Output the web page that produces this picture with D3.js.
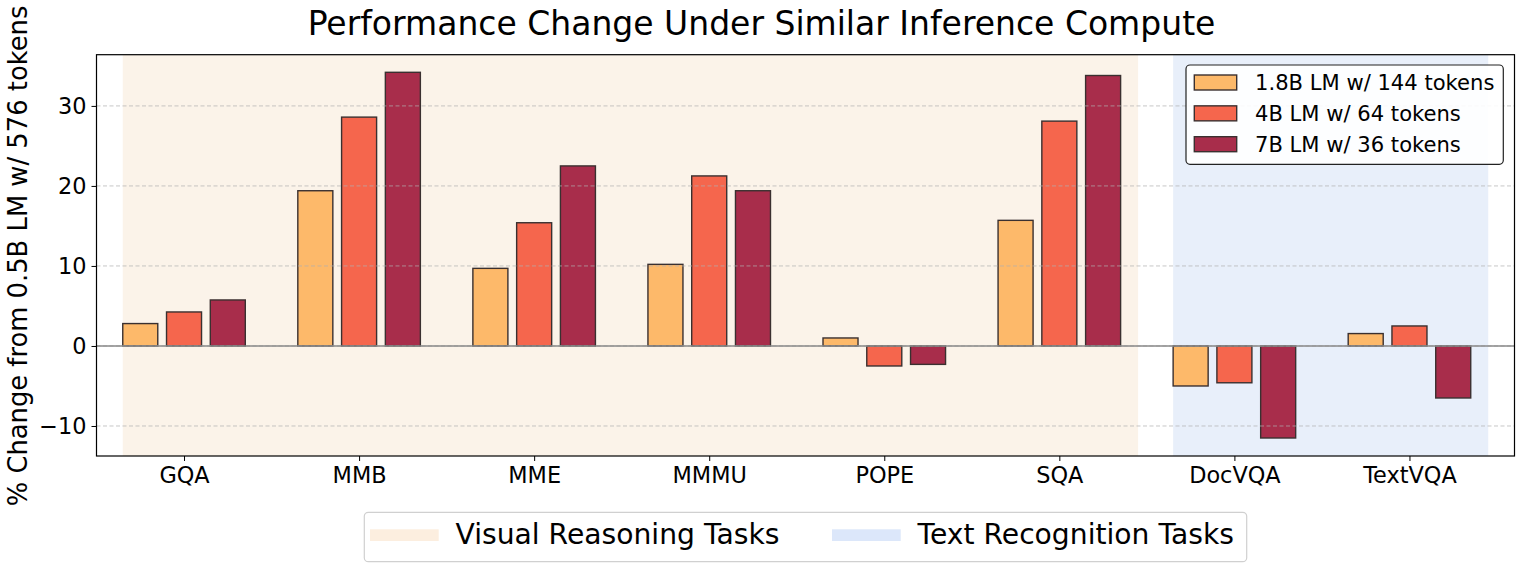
<!DOCTYPE html>
<html><head><meta charset="utf-8">
<script src="https://cdn.jsdelivr.net/npm/d3@7"></script>
<style>html,body{margin:0;padding:0;background:#fff;}svg{display:block;font-family:"DejaVu Sans",sans-serif;}</style>
</head><body>
<svg id="chart" width="1523" height="571"></svg>
<script>
const categories = ["GQA","MMB","MME","MMMU","POPE","SQA","DocVQA","TextVQA"];
const seriesNames = ["1.8B LM w/ 144 tokens","4B LM w/ 64 tokens","7B LM w/ 36 tokens"];
const vals18B = [2.8, 19.4, 9.7, 10.2, 1.0, 15.7, -5.0, 1.55];
const vals4B  = [4.25, 28.6, 15.4, 21.25, -2.5, 28.1, -4.6, 2.5];
const vals7B  = [5.75, 34.2, 22.5, 19.4, -2.3, 33.8, -11.5, -6.5];
const yTicks = [-10, 0, 10, 20, 30];
const regionNames = ["Visual Reasoning Tasks","Text Recognition Tasks"];
const regionSpans = [[-0.35, 5.45],[5.65, 7.45]];

const seriesVals = [vals18B, vals4B, vals7B];
const colors = ["#FDB96A","#F5664D","#A82D4B"];
const regionFill = ["#FBF3E9","#E8EFFA"];
const regionLegendFill = ["#FCEEDF","#DCE7FA"];

const svg = d3.select("#chart");
const L = 96.5, R = 1514.5, T = 54.7, B = 456;
const x = d3.scaleLinear().domain([-0.5, 7.6]).range([L, R]);
const y = d3.scaleLinear().domain([-13.75, 36.4]).range([B, T]);

// region spans
svg.append("g").selectAll("rect").data(regionSpans).join("rect")
  .attr("x", d => x(d[0])).attr("width", d => x(d[1]) - x(d[0]))
  .attr("y", T).attr("height", B - T)
  .attr("fill", (d,i) => regionFill[i]);

// bars
const bw = 0.2, off = 0.25;
seriesVals.forEach((vals, s) => {
  svg.append("g").selectAll("rect").data(vals).join("rect")
    .attr("x", (d,i) => x(i + (s-1)*off - bw/2))
    .attr("width", x(bw) - x(0))
    .attr("y", d => y(Math.max(0,d)))
    .attr("height", d => Math.abs(y(d) - y(0)))
    .attr("fill", colors[s])
    .attr("stroke", "#3a3030").attr("stroke-width", 1.4);
});

// grid
svg.append("g").selectAll("line").data(yTicks).join("line")
  .attr("x1", L).attr("x2", R).attr("y1", d => y(d)).attr("y2", d => y(d))
  .attr("stroke", "#b0b0b0").attr("stroke-opacity", 0.7)
  .attr("stroke-dasharray", "4,2.5").attr("stroke-width", 1);

// zero line
svg.append("line").attr("x1", L).attr("x2", R).attr("y1", y(0)).attr("y2", y(0))
  .attr("stroke", "#888").attr("stroke-width", 1.6);

// axes
const yAxis = d3.axisLeft(y).tickValues(yTicks).tickSize(5).tickPadding(5)
  .tickFormat(d => d < 0 ? "\u2212" + Math.abs(d) : d);
const gy = svg.append("g").attr("transform", `translate(${L},0)`).call(yAxis);
gy.select(".domain").remove();
gy.selectAll("text").attr("font-size", 22.4).attr("font-family", "DejaVu Sans").attr("fill","#000");
gy.selectAll("line").attr("stroke", "#000").attr("stroke-width", 1);

const xAxis = d3.axisBottom(x).tickValues(d3.range(categories.length)).tickSize(5).tickPadding(6)
  .tickFormat(i => categories[i]);
const gx = svg.append("g").attr("transform", `translate(0,${B})`).call(xAxis);
gx.select(".domain").remove();
gx.selectAll("text").attr("font-size", 22.4).attr("font-family", "DejaVu Sans").attr("fill","#000");
gx.selectAll("line").attr("stroke", "#000").attr("stroke-width", 1);

// frame
svg.append("rect").attr("x", L).attr("y", T).attr("width", R - L).attr("height", B - T)
  .attr("fill", "none").attr("stroke", "#000").attr("stroke-width", 1.2);

// title
svg.append("text").attr("x", 761.5).attr("y", 34.5).attr("text-anchor", "middle")
  .attr("font-size", 33).attr("fill", "#000").text("Performance Change Under Similar Inference Compute");

// y label
svg.append("text").attr("transform", `translate(26.5,256) rotate(-90)`)
  .attr("text-anchor", "middle").attr("font-size", 25.8).attr("fill", "#000")
  .text("% Change from 0.5B LM w/ 576 tokens");

// series legend
const lg = svg.append("g");
lg.append("rect").attr("x", 1186).attr("y", 65).attr("width", 317.3).attr("height", 99.3)
  .attr("rx", 4).attr("fill", "#fff").attr("fill-opacity", 0.9).attr("stroke", "#222").attr("stroke-width", 1.2);
seriesNames.forEach((n, i) => {
  const cy = 82.5 + i * 30.85;
  lg.append("rect").attr("x", 1194.3).attr("y", cy - 7.5).attr("width", 42.4).attr("height", 15)
    .attr("fill", colors[i]).attr("stroke", "#3a3030").attr("stroke-width", 1.4);
  lg.append("text").attr("x", 1255).attr("y", cy + 7.6).attr("font-size", 21.1).attr("fill", "#000").text(n);
});

// region legend
const rg = svg.append("g");
rg.append("rect").attr("x", 364.3).attr("y", 512.3).attr("width", 882.4).attr("height", 49.4)
  .attr("rx", 4).attr("fill", "#fff").attr("stroke", "#d0d0d0").attr("stroke-width", 1.2);
const rx = [370, 832];
regionNames.forEach((n, i) => {
  rg.append("rect").attr("x", rx[i]).attr("y", 529.3).attr("width", 68.7).attr("height", 11.7)
    .attr("fill", regionLegendFill[i]);
  rg.append("text").attr("x", rx[i] + 85.5).attr("y", 544).attr("font-size", 28.2).attr("fill", "#000").text(n);
});
</script>
</body></html>
